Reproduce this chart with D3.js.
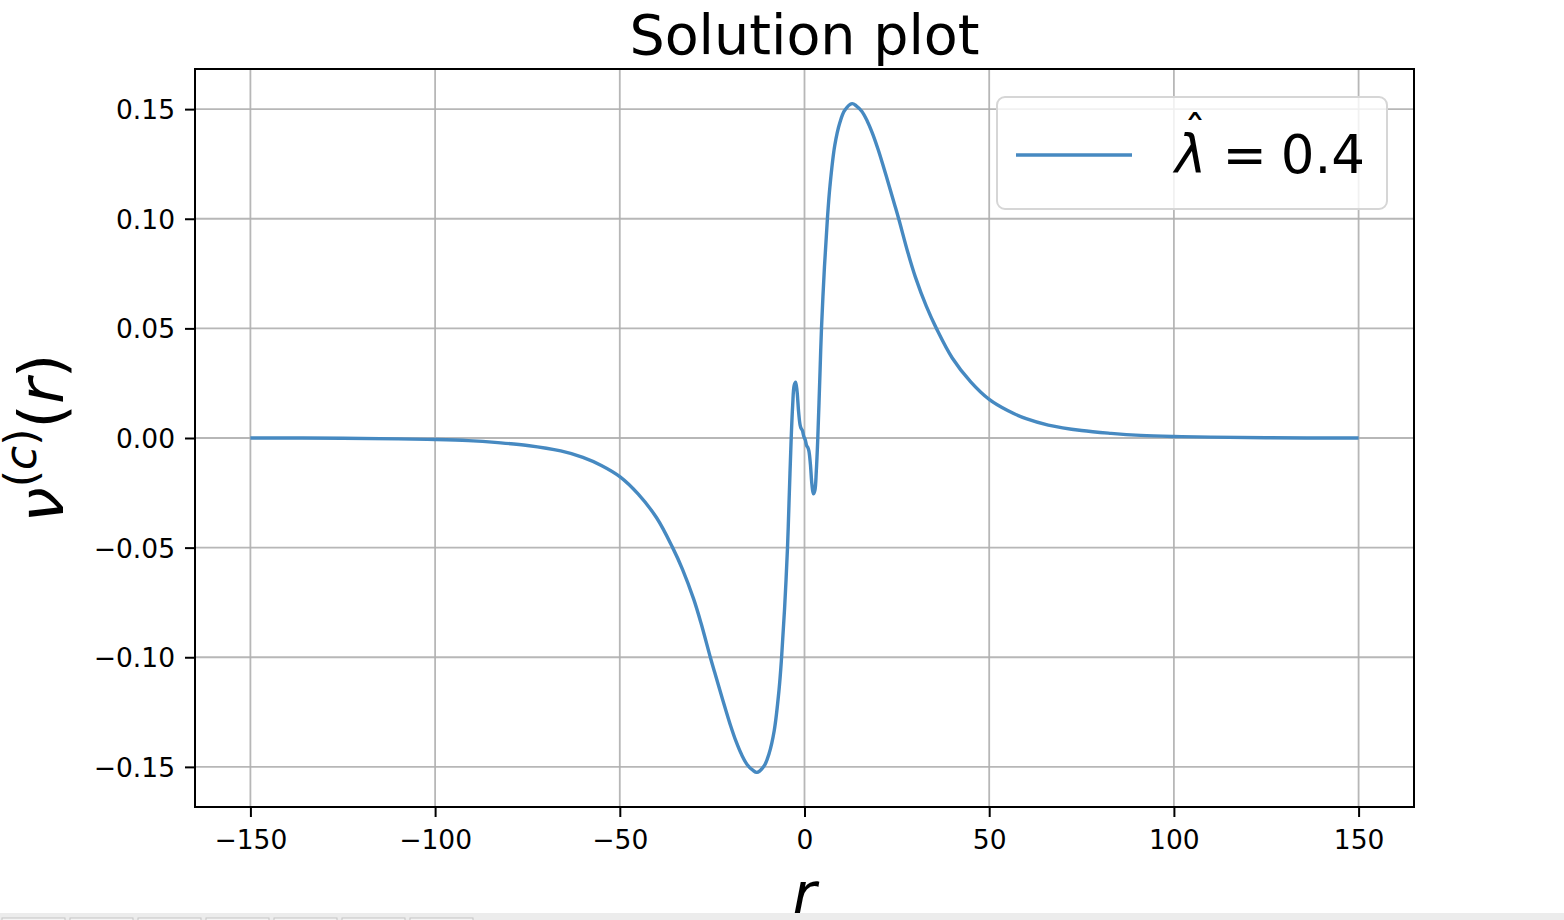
<!DOCTYPE html>
<html>
<head>
<meta charset="utf-8">
<script src="https://cdn.jsdelivr.net/npm/d3@7"></script>
<style>
  body { margin: 0; background: #fff; }
  #graph { width: 1564px; height: 920px; }
  text { font-family: "DejaVu Sans", sans-serif; fill: #000; }
  .grid line { stroke: #b0b0b0; stroke-width: 1.8; opacity: 0.9; }
</style>
</head>
<body>
<div id="graph"></div>
<script>
// r values and the solution nu^(c)(r)
var rValues = [-150, -125, -110, -100, -91, -83, -75, -66, -60, -55, -50, -45, -40, -35.7, -33, -30, -28, -25.5, -24.3, -23, -21.5, -20, -18.5, -17, -15.5, -14, -12.9, -10.9, -9.6, -8.2, -6.9, -6.2, -5.4, -4.6, -4.2, -3.6, -3.2, -2.8, -2.4, -2.0, -1.6, -1.2, -0.9, -0.6, -0.2,
               0.2, 0.6, 0.9, 1.2, 1.6, 2.0, 2.4, 2.8, 3.2, 3.6, 4.2, 4.6, 5.4, 6.2, 6.9, 8.2, 9.6, 10.9, 12.9, 14, 15.5, 17, 18.5, 20, 21.5, 23, 24.3, 25.5, 28, 30, 33, 35.7, 40, 45, 50, 55, 60, 66, 75, 83, 91, 100, 110, 125, 150];
var nuValues = [0, -0.0001, -0.0004, -0.0007, -0.0012, -0.0021, -0.0034, -0.0059, -0.0088, -0.0125, -0.0176, -0.0256, -0.0365, -0.05, -0.06, -0.0735, -0.0845, -0.10, -0.107, -0.1145, -0.123, -0.1312, -0.1385, -0.1445, -0.149, -0.1515, -0.1525, -0.1495, -0.144, -0.1335, -0.115, -0.10, -0.078, -0.05, -0.03, 0, 0.015, 0.024, 0.0255, 0.021, 0.012, 0.006, 0.0043, 0.0036, 0.0008,
                -0.0008, -0.0036, -0.0043, -0.006, -0.012, -0.021, -0.0255, -0.024, -0.015, 0, 0.03, 0.05, 0.078, 0.10, 0.115, 0.1335, 0.144, 0.1495, 0.1525, 0.1515, 0.149, 0.1445, 0.1385, 0.1312, 0.123, 0.1145, 0.107, 0.10, 0.0845, 0.0735, 0.06, 0.05, 0.0365, 0.0256, 0.0176, 0.0125, 0.0088, 0.0059, 0.0034, 0.0021, 0.0012, 0.0007, 0.0004, 0.0001, 0];

var xTicks = [-150, -100, -50, 0, 50, 100, 150];
var xTickLabels = ["\u2212150", "\u2212100", "\u221250", "0", "50", "100", "150"];
var yTicks = [-0.15, -0.10, -0.05, 0, 0.05, 0.10, 0.15];
var yTickLabels = ["\u22120.15", "\u22120.10", "\u22120.05", "0.00", "0.05", "0.10", "0.15"];
var legendLabel = "0.4";

var solData = rValues.map(function(r, i) { return {r: r, v: nuValues[i]}; });

svgWidth = 1564;
svgHeight = 920;
var margin = {top: 69, right: 150, bottom: 113, left: 195};
width = svgWidth - margin.left - margin.right;
height = svgHeight - margin.top - margin.bottom;

var xScale = d3.scaleLinear().domain([-165, 165]).range([0, width]);
var yScale = d3.scaleLinear().domain([-0.1683, 0.1683]).range([height, 0]);

var root = d3.select("#graph").append("svg")
	.attr("width", svgWidth)
	.attr("height", svgHeight);

var svg = root.append("g")
	.attr("transform", "translate(" + margin.left + "," + margin.top + ")");

// grid
svg.append("g").attr("class", "grid")
	.selectAll("line").data(xTicks).enter().append("line")
	.attr("x1", function(d) { return xScale(d); })
	.attr("x2", function(d) { return xScale(d); })
	.attr("y1", 0).attr("y2", height);
svg.append("g").attr("class", "grid")
	.selectAll("line").data(yTicks).enter().append("line")
	.attr("y1", function(d) { return yScale(d); })
	.attr("y2", function(d) { return yScale(d); })
	.attr("x1", 0).attr("x2", width);

// the solution curve
var lineGenerator = d3.line()
	.x(function(d) { return xScale(d.r); })
	.y(function(d) { return yScale(d.v); })
	.curve(d3.curveCatmullRom.alpha(0.5));

svg.append("path")
	.attr("d", lineGenerator(solData))
	.style("fill", "none")
	.style("stroke", "#4689c1")
	.style("stroke-width", 3.4)
	.style("stroke-linejoin", "round");

// axes
var xAxis = svg.append("g")
	.attr("transform", "translate(0," + height + ")")
	.call(d3.axisBottom(xScale).tickValues(xTicks).tickSize(10).tickPadding(13)
		.tickFormat(function(d, i) { return xTickLabels[i]; }));
var yAxis = svg.append("g")
	.call(d3.axisLeft(yScale).tickValues(yTicks).tickSize(10).tickPadding(10)
		.tickFormat(function(d, i) { return yTickLabels[i]; }));
[xAxis, yAxis].forEach(function(ax) {
	ax.select(".domain").remove();
	ax.selectAll(".tick line").attr("stroke", "#000").attr("stroke-width", 2);
	ax.selectAll(".tick text").style("font-size", "26.5px").style("font-family", "DejaVu Sans").attr("fill", "#000");
});
yAxis.selectAll(".tick text").attr("dy", "0.36em");

// frame
svg.append("rect")
	.attr("width", width).attr("height", height)
	.style("fill", "none").style("stroke", "#000").style("stroke-width", 2);

// title
root.append("text")
	.attr("x", margin.left + width / 2).attr("y", 54)
	.attr("text-anchor", "middle")
	.style("font-size", "55.5px")
	.text("Solution plot");

// x label
root.append("text")
	.attr("x", margin.left + xScale(0)).attr("y", 914)
	.attr("text-anchor", "middle")
	.style("font-size", "58px").style("font-style", "italic")
	.text("r");

// y label
var ylab = root.append("text")
	.attr("transform", "translate(63," + (margin.top + height / 2) + ") rotate(-90)")
	.attr("text-anchor", "middle")
	.style("font-size", "63px");
ylab.append("tspan").style("font-style", "italic").text("\u03bd");
ylab.append("tspan").attr("dy", -27).style("font-size", "44px").text("(");
ylab.append("tspan").style("font-size", "44px").style("font-style", "italic").text("c");
ylab.append("tspan").style("font-size", "44px").text(")");
ylab.append("tspan").attr("dy", 27).text("(");
ylab.append("tspan").style("font-style", "italic").text("r");
ylab.append("tspan").text(")");

// legend
var legend = root.append("g");
legend.append("rect")
	.attr("x", 997).attr("y", 97).attr("width", 390).attr("height", 112)
	.attr("rx", 8)
	.style("fill", "#fff").style("fill-opacity", 0.8)
	.style("stroke", "#d6d6d6").style("stroke-width", 2);
legend.append("line")
	.attr("x1", 1016).attr("x2", 1132).attr("y1", 155).attr("y2", 155)
	.style("stroke", "#4689c1").style("stroke-width", 3.4);
var legText = legend.append("text")
	.attr("x", 1175).attr("y", 173)
	.style("font-size", "53px");
legText.append("tspan").style("font-style", "italic").text("\u03bb");
legText.append("tspan").attr("dx", 16).text("=");
legText.append("tspan").attr("dx", 14).text(legendLabel);
legend.append("text")
	.attr("x", 1195).attr("y", 148)
	.attr("text-anchor", "middle")
	.style("font-size", "44px")
	.text("\u02c6");

// toolbar strip at the bottom of the window
root.append("rect").attr("x", 0).attr("y", 913).attr("width", svgWidth).attr("height", 7).style("fill", "#ececec");
root.selectAll(".tb").data(d3.range(7)).enter().append("rect")
	.attr("x", function(d) { return 2 + d * 68; }).attr("y", 918)
	.attr("width", 63).attr("height", 6)
	.style("fill", "#f4f4f4").style("stroke", "#c4c4c4").style("stroke-width", 1);
</script>
</body>
</html>
